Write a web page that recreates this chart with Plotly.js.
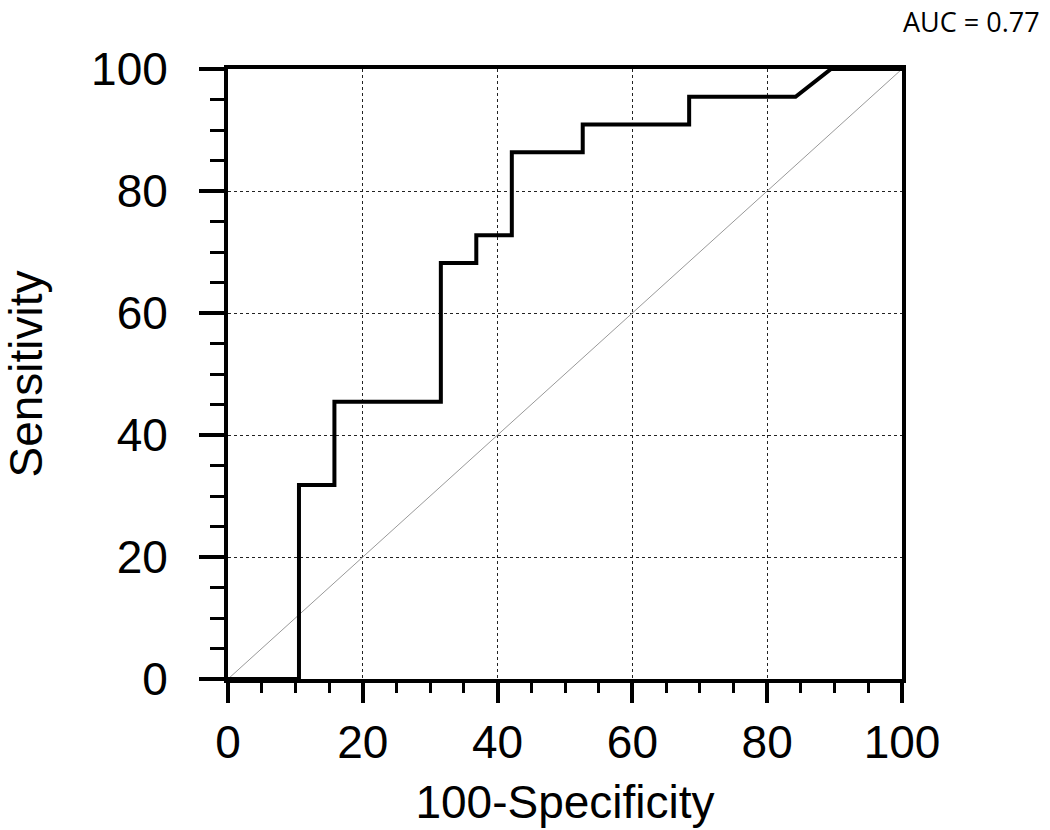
<!DOCTYPE html>
<html>
<head>
<meta charset="utf-8">
<script src="https://cdn.plot.ly/plotly-3.0.1.min.js"></script>
<style>
  html, body { margin: 0; padding: 0; background: #fff; }
  #roc { width: 1050px; height: 830px; }
</style>
</head>
<body>
<div id="roc"></div>
<script>
// ROC curve steps (100-Specificity, Sensitivity)
var specX = [0, 10.53, 10.53, 15.79, 15.79, 31.58, 31.58, 36.84, 36.84, 42.11, 42.11, 52.63, 52.63, 68.42, 68.42, 84.21, 89.47, 100];
var sensY = [0, 0, 31.82, 31.82, 45.45, 45.45, 68.18, 68.18, 72.73, 72.73, 86.36, 86.36, 90.91, 90.91, 95.45, 95.45, 100, 100];
var refX = [0, 100];
var refY = [0, 100];
var tickVals = [0, 20, 40, 60, 80, 100];
var aucLabel = 'AUC = 0.77';

var diag = {
    x: refX, y: refY,
    type: 'scatter', mode: 'lines',
    line: {color: '#999', width: 1},
    hoverinfo: 'skip'
};
var roc = {
    x: specX, y: sensY,
    type: 'scatter', mode: 'lines',
    line: {color: '#000', width: 4},
    name: 'ROC'
};

var axisFont = {family: 'Liberation Sans, Arial, sans-serif', size: 46, color: '#000'};

var layout = {
    width: 1050, height: 830,
    margin: {l: 228, r: 148, t: 69, b: 151},
    paper_bgcolor: '#fff', plot_bgcolor: '#fff',
    showlegend: false,
    font: axisFont,
    xaxis: {
        range: [0, 100],
        tickvals: tickVals,
        ticks: 'outside', ticklen: 20, tickwidth: 4, tickcolor: '#000',
        minor: {dtick: 5, ticks: 'outside', ticklen: 10, tickwidth: 3, tickcolor: '#000', showgrid: false},
        showline: true, linewidth: 4, linecolor: '#000', mirror: true,
        showgrid: true, gridcolor: '#222', gridwidth: 1, griddash: 'dot',
        zeroline: false,
        tickfont: axisFont,
        title: {text: '100-Specificity', font: axisFont, standoff: 20}
    },
    yaxis: {
        range: [0, 100],
        tickvals: tickVals,
        ticks: 'outside', ticklen: 25, tickwidth: 4, tickcolor: '#000',
        ticklabelstandoff: 22,
        minor: {dtick: 5, ticks: 'outside', ticklen: 14, tickwidth: 3, tickcolor: '#000', showgrid: false},
        showline: true, linewidth: 4, linecolor: '#000', mirror: true,
        showgrid: true, gridcolor: '#222', gridwidth: 1, griddash: 'dot',
        zeroline: false,
        tickfont: axisFont,
        title: {text: 'Sensitivity', font: axisFont, standoff: 42}
    },
    annotations: [{
        text: aucLabel,
        xref: 'paper', yref: 'paper',
        x: 1.208, y: 1.112, xanchor: 'right', yanchor: 'top',
        showarrow: false,
        font: {family: 'Open Sans, sans-serif', size: 27, color: '#000'}
    }]
};

Plotly.newPlot('roc', [diag, roc], layout, {displayModeBar: false});
</script>
</body>
</html>
